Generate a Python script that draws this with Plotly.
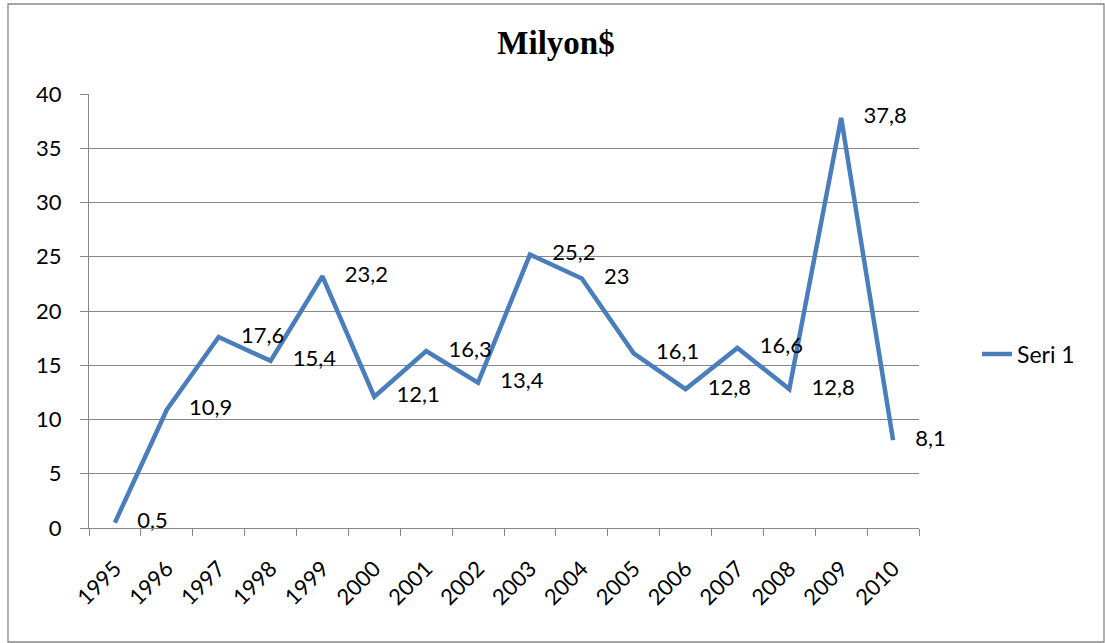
import plotly.graph_objects as go

# Veriler
yillar = ["1995", "1996", "1997", "1998", "1999", "2000", "2001", "2002",
          "2003", "2004", "2005", "2006", "2007", "2008", "2009", "2010"]
seri_1 = [0.5, 10.9, 17.6, 15.4, 23.2, 12.1, 16.3, 13.4,
          25.2, 23, 16.1, 12.8, 16.6, 12.8, 37.8, 8.1]
y_ticks = [0, 5, 10, 15, 20, 25, 30, 35, 40]

etiketler = [f"{v:g}".replace(".", ",") for v in seri_1]

mavi = "#4A7EBB"
gri = "#878787"
yazi = "Lato"

fig = go.Figure()

fig.add_trace(go.Scatter(
    x=yillar, y=seri_1,
    mode="lines+markers+text",
    name="Seri 1",
    line=dict(color=mavi, width=4.5),
    marker=dict(size=34, color="rgba(0,0,0,0)"),
    text=etiketler,
    textposition="middle right",
    textfont=dict(family=yazi, size=22, color="black"),
    cliponaxis=False,
))

# grafik alanini cevreleyen cerceve (sol 89, sag 919, ust 94, alt 528 px)
fig.add_shape(
    type="rect", xref="paper", yref="paper",
    x0=(8 - 89) / 830, x1=(1104 - 89) / 830,
    y0=(528 - 642) / 434, y1=(528 - 4) / 434,
    line=dict(color=gri, width=1.3),
    layer="below",
)

fig.update_layout(
    width=1105, height=643,
    margin=dict(l=89, r=186, t=94, b=115),
    paper_bgcolor="white", plot_bgcolor="white",
    title=dict(
        text="<b>Milyon$</b>",
        x=556 / 1105, xanchor="center",
        y=1 - 42 / 643, yanchor="middle",
        font=dict(family="Liberation Serif", size=33, color="black"),
    ),
    font=dict(family=yazi, size=22, color="black"),
    showlegend=True,
    legend=dict(
        x=(977 - 89) / 830, xanchor="left",
        y=(528 - 354) / 434, yanchor="middle",
        font=dict(family=yazi, size=23, color="black"),
        bgcolor="rgba(0,0,0,0)",
    ),
    xaxis=dict(
        type="category",
        range=[-0.5, 15.5],
        automargin=False,
        tickson="boundaries",
        ticks="outside", ticklen=7, tickcolor=gri, tickwidth=1.3,
        showline=True, linecolor=gri, linewidth=1.3,
        showgrid=False,
        tickangle=-45,
        ticklabelstandoff=18,
        tickfont=dict(family=yazi, size=22, color="black"),
    ),
    yaxis=dict(
        range=[0, 40],
        automargin=False,
        tickvals=y_ticks,
        ticks="outside", ticklen=8, tickcolor=gri, tickwidth=1.3,
        showline=True, linecolor=gri, linewidth=1.3,
        showgrid=True, gridcolor=gri, gridwidth=1.3,
        zeroline=False,
        ticklabelstandoff=14,
        tickfont=dict(family=yazi, size=22, color="black"),
    ),
)

# sayfa kenar boslugunu kaldir
fig.write_html(
    "out.html",
    config={"displayModeBar": False},
    post_script="document.body.style.margin='0';",
)
